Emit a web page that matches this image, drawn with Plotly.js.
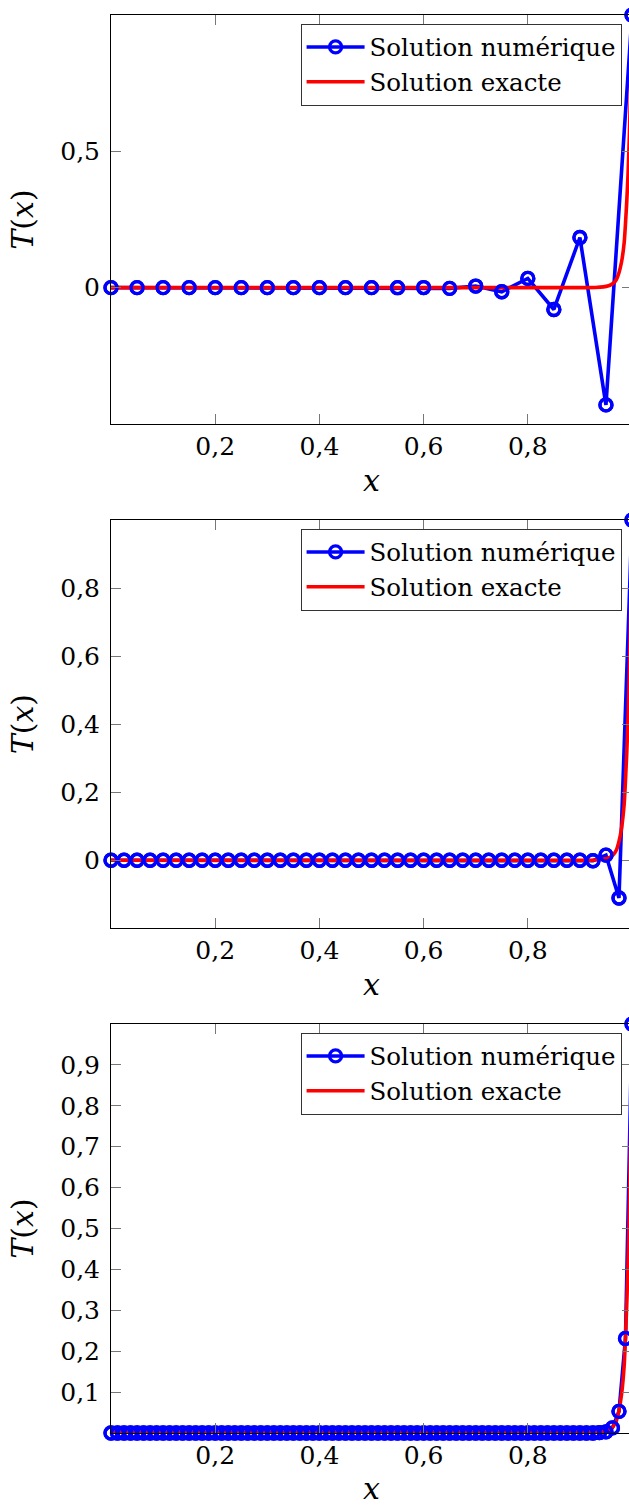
<!DOCTYPE html>
<html>
<head>
<meta charset="utf-8">
<script src="https://cdn.plot.ly/plotly-3.0.1.min.js"></script>
<style>
  html, body { margin: 0; padding: 0; overflow: hidden; background: #fff; }
  #chart { width: 660px; height: 1506px; }
</style>
</head>
<body>
<div id="chart"></div>
<script>
// ---- Data ----
// Plot 1 : N = 20
const x20 = [0,0.05,0.1,0.15,0.2,0.25,0.3,0.35,0.4,0.45,0.5,0.55,0.6,0.65,0.7,0.75,0.8,0.85,0.9,0.95,1];
const T20 = [0,0,0,0,0,0,0,0,0,0,0,-0.0002,0.0005,-0.0027,0.006,-0.015,0.034,-0.08,0.184,-0.43,1];

// Plot 2 : N = 40
const x40 = [0,0.025,0.05,0.075,0.1,0.125,0.15,0.175,0.2,0.225,0.25,0.275,0.3,0.325,0.35,0.375,0.4,0.425,0.45,0.475,0.5,0.525,0.55,0.575,0.6,0.625,0.65,0.675,0.7,0.725,0.75,0.775,0.8,0.825,0.85,0.875,0.9,0.925,0.95,0.975,1];
const T40 = [0,0,0,0,0,0,0,0,0,0,0,0,0,0,0,0,0,0,0,0,0,0,0,0,0,0,0,0,0,0,0,0,0,0,0,0,0,-0.0014,0.015,-0.111,1];

// Plot 3 : N = 80
const x80 = [0,0.0125,0.025,0.0375,0.05,0.0625,0.075,0.0875,0.1,0.1125,0.125,0.1375,0.15,0.1625,0.175,0.1875,0.2,0.2125,0.225,0.2375,0.25,0.2625,0.275,0.2875,0.3,0.3125,0.325,0.3375,0.35,0.3625,0.375,0.3875,0.4,0.4125,0.425,0.4375,0.45,0.4625,0.475,0.4875,0.5,0.5125,0.525,0.5375,0.55,0.5625,0.575,0.5875,0.6,0.6125,0.625,0.6375,0.65,0.6625,0.675,0.6875,0.7,0.7125,0.725,0.7375,0.75,0.7625,0.775,0.7875,0.8,0.8125,0.825,0.8375,0.85,0.8625,0.875,0.8875,0.9,0.9125,0.925,0.9375,0.95,0.9625,0.975,0.9875,1];
const T80 = [0,0,0,0,0,0,0,0,0,0,0,0,0,0,0,0,0,0,0,0,0,0,0,0,0,0,0,0,0,0,0,0,0,0,0,0,0,0,0,0,0,0,0,0,0,0,0,0,0,0,0,0,0,0,0,0,0,0,0,0,0,0,0,0,0,0,0,0,0,0,0,0,0,0,0,0.0007,0.0028,0.0125,0.053,0.231,1];

// Exact solution (same curve in the three plots)
const xExact = [0,0.9,0.93,0.945,0.955,0.96,0.965,0.97,0.975,0.98,0.985,0.9875,0.99,0.9925,0.995,0.9975,1];
const TExact = [0,0.0001,0.0008,0.003,0.007,0.011,0.018,0.03,0.055,0.095,0.165,0.235,0.32,0.42,0.56,0.75,1];

// Ticks
const xTicks = [0.2,0.4,0.6,0.8];
const yTicks1 = [0,0.5];
const yTicks2 = [0,0.2,0.4,0.6,0.8];
const yTicks3 = [0.1,0.2,0.3,0.4,0.5,0.6,0.7,0.8,0.9];

const seriesNames = ['Solution numérique', 'Solution exacte'];

// ---- Styling ----
const BLUE = '#0000ff', RED = '#ff0000';
const FONT = 'DejaVu Serif';
const H = 1506;
const panels = [
  {x: x20, y: T20, top: 15,  bottom: 424,  range: [-0.5, 1], ticks: yTicks1},
  {x: x40, y: T40, top: 520, bottom: 928.3, range: [-0.2, 1], ticks: yTicks2},
  {x: x80, y: T80, top: 1024, bottom: 1433, range: [0, 1], ticks: yTicks3}
];

const traces = [];
const layout = {
  width: 660, height: H,
  margin: {l: 111, r: 28, t: 0, b: 0},
  paper_bgcolor: '#fff', plot_bgcolor: '#fff',
  separators: ',.',
  showlegend: true,
  font: {family: FONT, color: '#000'}
};

panels.forEach((p, i) => {
  const n = i + 1;
  const xa = n === 1 ? 'x' : 'x' + n;
  const ya = n === 1 ? 'y' : 'y' + n;
  const lg = n === 1 ? 'legend' : 'legend' + n;
  const markerStyle = {symbol: 'circle-open', size: 12, color: BLUE, line: {width: 3.3, color: BLUE}};
  traces.push({
    x: p.x, y: p.y, xaxis: xa, yaxis: ya, legend: lg,
    type: 'scatter', mode: 'lines+markers', name: seriesNames[0],
    line: {color: BLUE, width: 3.6}, marker: markerStyle, cliponaxis: false
  });
  traces.push({
    x: xExact, y: TExact, xaxis: xa, yaxis: ya, legend: lg,
    type: 'scatter', mode: 'lines', name: seriesNames[1],
    line: {color: RED, width: 3.6, shape: 'spline', smoothing: 0.6}, cliponaxis: false
  });
  traces.push({
    x: p.x, y: p.y, xaxis: xa, yaxis: ya, legend: lg,
    type: 'scatter', mode: 'markers', name: seriesNames[0], showlegend: false,
    marker: markerStyle, cliponaxis: false
  });

  const axCommon = {
    showline: true, linecolor: '#000', linewidth: 1, mirror: 'allticks',
    ticks: 'inside', ticklen: 10, tickwidth: 1, tickcolor: '#777',
    showgrid: false, zeroline: false,
    tickfont: {family: FONT, size: 25, color: '#000'}
  };
  layout[n === 1 ? 'xaxis' : 'xaxis' + n] = Object.assign({}, axCommon, {
    domain: [0, 1], range: [0, 1], anchor: ya,
    tickmode: 'array', tickvals: xTicks, ticklabelstandoff: 0,
    automargin: true,
    title: {text: '<i>x</i>', font: {family: FONT, size: 30, color: '#000'}, standoff: 9}
  });
  layout[n === 1 ? 'yaxis' : 'yaxis' + n] = Object.assign({}, axCommon, {
    domain: [1 - p.bottom / H, 1 - p.top / H], range: p.range, anchor: xa,
    tickmode: 'array', tickvals: p.ticks, ticklabelstandoff: 5,
    automargin: true,
    title: {text: '<i>T</i>(<i>x</i>)', font: {family: FONT, size: 30, color: '#000'}, standoff: 17}
  });
  layout[lg] = {
    x: 0.98, xanchor: 'right', xref: 'paper',
    y: 1 - (p.top + 8.5) / H, yanchor: 'top', yref: 'paper',
    bgcolor: '#fff', bordercolor: '#333', borderwidth: 1,
    font: {family: FONT, size: 24.5, color: '#000'},
    itemwidth: 58, tracegroupgap: 0
  };
});

Plotly.newPlot('chart', traces, layout, {displayModeBar: false, staticPlot: true});
</script>
</body>
</html>
